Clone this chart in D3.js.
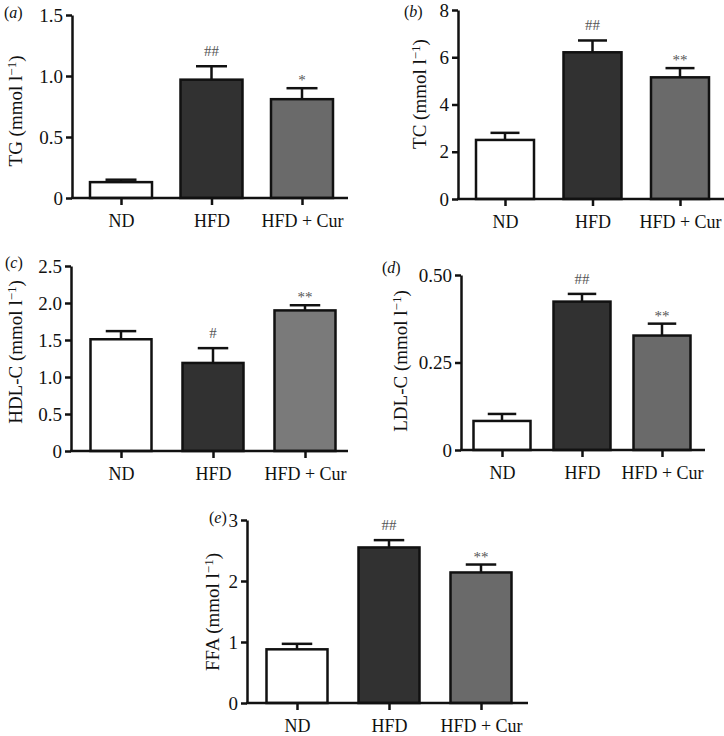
<!DOCTYPE html>
<html>
<head>
<meta charset="utf-8">
<script src="https://cdn.jsdelivr.net/npm/d3@7"></script>
<style>
  body { margin: 0; background: #fff; }
  svg { display: block; }
  text { font-family: "Liberation Serif", "DejaVu Serif", serif; fill: #111; }
  .axis path, .axis line { stroke: #111; stroke-width: 2.5; }
  .axis text { font-size: 18px; }
  .yaxis text { font-size: 19px; }
</style>
</head>
<body>
<div id="chart"></div>
<script>
var categories = ["ND", "HFD", "HFD + Cur"];

// means and SEM
var tgMean = [0.13, 0.97, 0.81],   tgSem = [0.02, 0.11, 0.09];
var tcMean = [2.50, 6.21, 5.15],   tcSem = [0.30, 0.50, 0.39];
var hdlMean = [1.51, 1.19, 1.90],  hdlSem = [0.11, 0.20, 0.07];
var ldlMean = [0.083, 0.424, 0.327], ldlSem = [0.020, 0.022, 0.034];
var ffaMean = [0.88, 2.55, 2.14],  ffaSem = [0.09, 0.12, 0.13];

var tgSig = ["", "##", "*"];
var tcSig = ["", "##", "**"];
var hdlSig = ["", "#", "**"];
var ldlSig = ["", "##", "**"];
var ffaSig = ["", "##", "**"];

var tgTicks = [0, 0.5, 1.0, 1.5],  tgTickLabels = ["0", "0.5", "1.0", "1.5"];
var tcTicks = [0, 2, 4, 6, 8],     tcTickLabels = ["0", "2", "4", "6", "8"];
var hdlTicks = [0, 0.5, 1.0, 1.5, 2.0, 2.5], hdlTickLabels = ["0", "0.5", "1.0", "1.5", "2.0", "2.5"];
var ldlTicks = [0, 0.25, 0.50],    ldlTickLabels = ["0", "0.25", "0.50"];
var ffaTicks = [0, 1, 2, 3],       ffaTickLabels = ["0", "1", "2", "3"];

var fills = ["#ffffff", "#313131", "#6a6a6a"];

var width = 724, height = 736;

var svg = d3.select("#chart").append("svg")
    .attr("width", width)
    .attr("height", height);

// panel layout: axis x, first/last bar centre, bar width, axis end, top/bottom px
var panels = [
  {tag: "a", name: "TG", mean: tgMean, sem: tgSem, sig: tgSig, ticks: tgTicks, labels: tgTickLabels,
   ax: 72, c0: 121, c1: 302, bw: 62, xEnd: 348, top: 15, base: 198, lx: 15, ly: 111, px: 4, py: 18},
  {tag: "b", name: "TC", mean: tcMean, sem: tcSem, sig: tcSig, ticks: tcTicks, labels: tcTickLabels,
   ax: 458, c0: 505, c1: 680, bw: 58, xEnd: 724, top: 10, base: 199, lx: 419, ly: 94, px: 404, py: 17},
  {tag: "c", name: "HDL-C", mean: hdlMean, sem: hdlSem, sig: hdlSig, ticks: hdlTicks, labels: hdlTickLabels,
   ax: 71, c0: 121, c1: 305, bw: 61, xEnd: 348, top: 266, base: 451, lx: 15, ly: 352, px: 5, py: 268, cur: "#7a7a7a"},
  {tag: "d", name: "LDL-C", mean: ldlMean, sem: ldlSem, sig: ldlSig, ticks: ldlTicks, labels: ldlTickLabels,
   ax: 461, c0: 502, c1: 662, bw: 57, xEnd: 705, top: 275, base: 450, lx: 400, ly: 361, px: 382, py: 273},
  {tag: "e", name: "FFA", mean: ffaMean, sem: ffaSem, sig: ffaSig, ticks: ffaTicks, labels: ffaTickLabels,
   ax: 247, c0: 297, c1: 481, bw: 61, xEnd: 528, top: 520, base: 703, lx: 212, ly: 612, px: 209, py: 523}
];

panels.forEach(function(p) {
  var g = svg.append("g");
  var ticks = p.ticks;
  var y = d3.scaleLinear()
      .domain([0, ticks[ticks.length - 1]])
      .range([p.base, p.top]);
  var x = d3.scalePoint()
      .domain(categories)
      .range([p.c0, p.c1]);

  var rows = categories.map(function(c, i) {
    return {cat: c, mean: p.mean[i], sem: p.sem[i], sig: p.sig[i], fill: (i == 2 && p.cur) ? p.cur : fills[i]};
  });

  // error bars (upper only)
  var cap = p.bw * 0.5;
  var eb = g.selectAll(".err").data(rows).enter().append("g").attr("class", "err");
  eb.append("line")
    .attr("x1", function(d) { return x(d.cat); })
    .attr("x2", function(d) { return x(d.cat); })
    .attr("y1", function(d) { return y(d.mean); })
    .attr("y2", function(d) { return y(d.mean + d.sem); })
    .attr("stroke", "#111").attr("stroke-width", 2.5);
  eb.append("line")
    .attr("x1", function(d) { return x(d.cat) - cap / 2; })
    .attr("x2", function(d) { return x(d.cat) + cap / 2; })
    .attr("y1", function(d) { return y(d.mean + d.sem); })
    .attr("y2", function(d) { return y(d.mean + d.sem); })
    .attr("stroke", "#111").attr("stroke-width", 2.5);

  g.selectAll(".bar").data(rows).enter().append("rect")
    .attr("class", "bar")
    .attr("x", function(d) { return x(d.cat) - p.bw / 2; })
    .attr("width", p.bw)
    .attr("y", function(d) { return y(d.mean); })
    .attr("height", function(d) { return y(0) - y(d.mean); })
    .attr("fill", function(d) { return d.fill; })
    .attr("stroke", "#111")
    .attr("stroke-width", 2.5);

  // significance marks
  g.selectAll(".sig").data(rows).enter().append("text")
    .attr("class", "sig")
    .attr("x", function(d) { return x(d.cat); })
    .attr("y", function(d) { return y(d.mean + d.sem) - (d.sig.indexOf("#") >= 0 ? 10 : 3); })
    .attr("text-anchor", "middle")
    .style("font-size", "15px")
    .style("fill", "#555")
    .text(function(d) { return d.sig; });

  // y axis
  var yAxis = d3.axisLeft(y)
    .tickValues(ticks)
    .tickFormat(function(d, i) { return p.labels[i]; })
    .tickSize(6)
    .tickSizeOuter(0)
    .tickPadding(3);
  g.append("g")
    .attr("class", "axis yaxis")
    .attr("transform", "translate(" + p.ax + ",0)")
    .call(yAxis);

  // x axis: baseline plus category ticks
  g.append("line")
    .attr("x1", p.ax - 1).attr("x2", p.xEnd)
    .attr("y1", p.base).attr("y2", p.base)
    .attr("stroke", "#111").attr("stroke-width", 2.5);
  var xAxis = d3.axisBottom(x).tickSize(7).tickSizeOuter(0).tickPadding(9);
  var xg = g.append("g")
    .attr("class", "axis")
    .attr("transform", "translate(0," + p.base + ")")
    .call(xAxis);
  xg.select(".domain").remove();

  // y label
  var lab = g.append("text")
    .attr("transform", "translate(" + p.lx + "," + p.ly + ") rotate(-90)")
    .attr("text-anchor", "middle")
    .attr("dy", "0.35em")
    .style("font-size", "19px");
  lab.append("tspan").text(p.name + " (mmol l");
  lab.append("tspan").attr("dy", -6).style("font-size", "13px").text("\u22121");
  lab.append("tspan").attr("dy", 6).text(")");

  // panel tag
  var t = g.append("text")
    .attr("x", p.px).attr("y", p.py)
    .style("font-size", "16px");
  t.append("tspan").text("(");
  t.append("tspan").style("font-style", "italic").text(p.tag);
  t.append("tspan").text(")");
});
</script>
</body>
</html>
